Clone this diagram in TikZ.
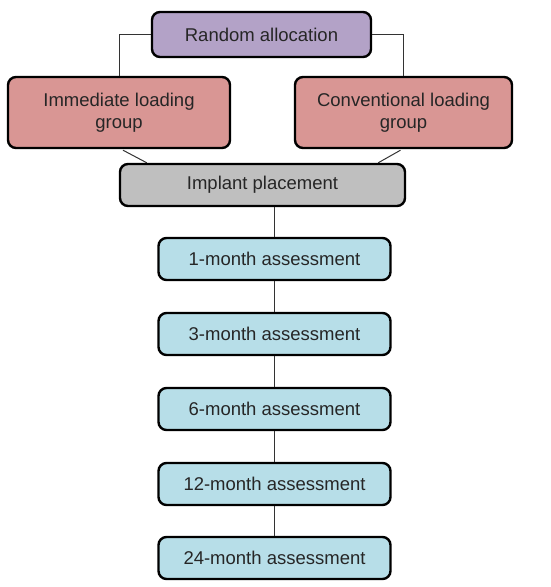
\documentclass[tikz,border=0pt]{standalone}
\usepackage{fontspec}
\setmainfont{Liberation Sans}
\usetikzlibrary{calc}
\definecolor{cpurple}{HTML}{B3A2C7}
\definecolor{cred}{HTML}{D99694}
\definecolor{cgray}{HTML}{BFBFBF}
\definecolor{cblue}{HTML}{B7DEE8}
\definecolor{ctext}{HTML}{262626}
\begin{document}
\begin{tikzpicture}[x=1pt,y=-1pt,
  box/.style={draw=black,line width=2.4pt,rounded corners=8pt,inner sep=0pt,align=center,
    text=ctext,font=\fontsize{18.5}{22}\selectfont},
  conn/.style={draw=black!80,line width=1pt}]
\useasboundingbox (0,0) rectangle (550,587);
\node[box,fill=cpurple,minimum width=219pt,minimum height=45pt] (rand) at (261.5,34.5) {Random allocation};
\node[box,fill=cred,minimum width=222pt,minimum height=71pt] (imm) at (119,112.5) {Immediate loading\\group};
\node[box,fill=cred,minimum width=217pt,minimum height=71pt] (conv) at (403.5,112.5) {Conventional loading\\group};
\node[box,fill=cgray,minimum width=285pt,minimum height=42pt] (impl) at (262.5,185) {Implant placement};
\node[box,fill=cblue,minimum width=232pt,minimum height=42pt] (a1) at (274.5,259) {1-month assessment};
\node[box,fill=cblue,minimum width=232pt,minimum height=42pt] (a3) at (274.5,334) {3-month assessment};
\node[box,fill=cblue,minimum width=232pt,minimum height=42pt] (a6) at (274.5,409) {6-month assessment};
\node[box,fill=cblue,minimum width=232pt,minimum height=42pt] (a12) at (274.5,484) {12-month assessment};
\node[box,fill=cblue,minimum width=232pt,minimum height=42pt] (a24) at (274.5,558) {24-month assessment};
\begin{scope}[on background layer/.style={}]
\end{scope}
\draw[conn] (rand.west) -| (imm.north);
\draw[conn] (rand.east) -| (conv.north);
\draw[conn] ($(imm.south)+(4,1)$) -- ($(impl.north west)+(28,0)$);
\draw[conn] ($(conv.south)+(-3,1)$) -- ($(impl.north east)+(-28,0)$);
\draw[conn] (a1.north) -- (a1.north |- impl.south);
\draw[conn] (a1) -- (a3);
\draw[conn] (a3) -- (a6);
\draw[conn] (a6) -- (a12);
\draw[conn] (a12) -- (a24);
\end{tikzpicture}
\end{document}
